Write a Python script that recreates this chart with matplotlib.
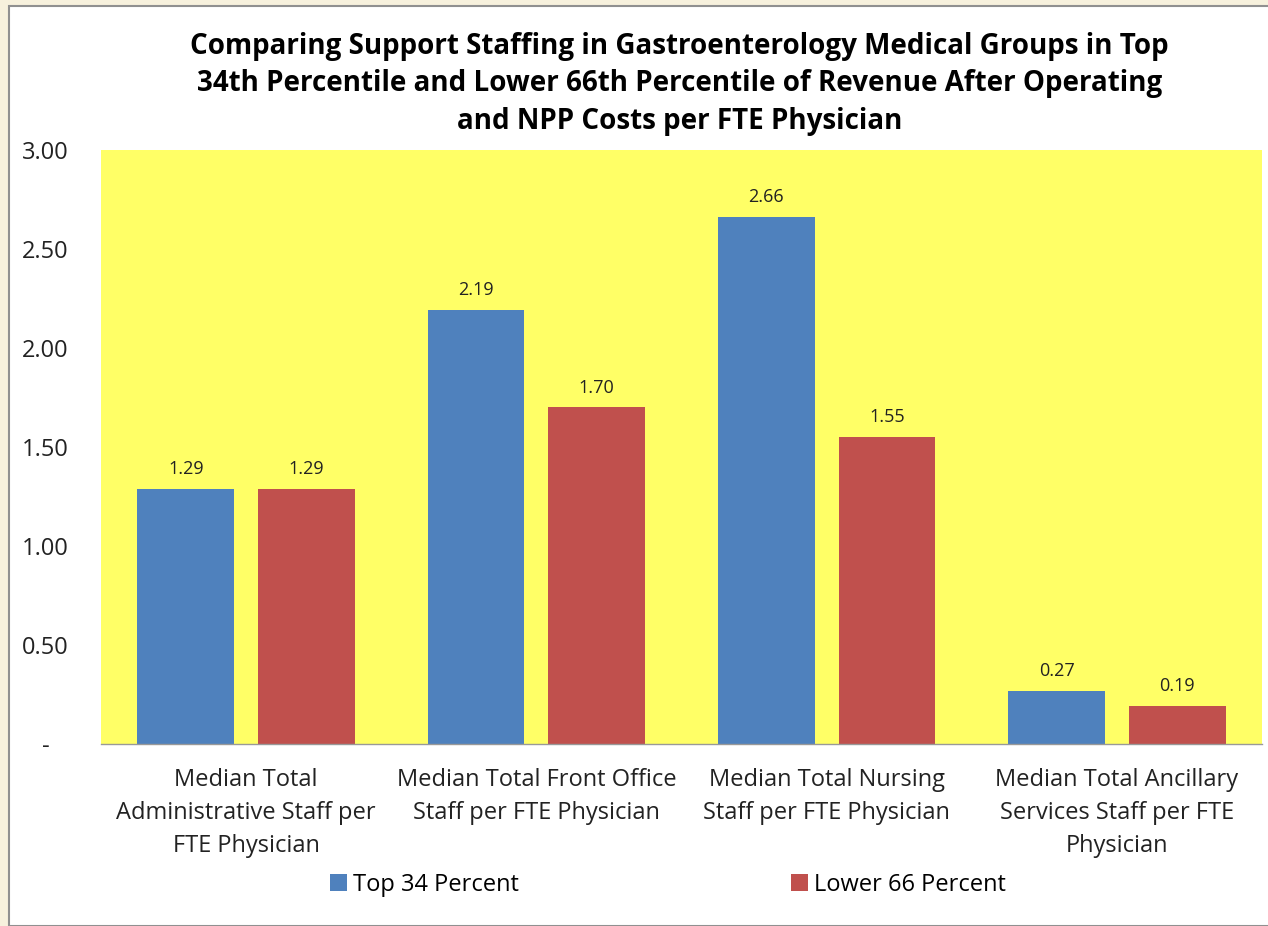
import matplotlib
matplotlib.use("Agg")
import matplotlib.pyplot as plt
import matplotlib.patches as mpatches
import numpy as np

BLUE = "#4F81BD"
RED = "#C0504D"
YELLOW = "#FFFF66"
CREAM = "#F7F1DD"

categories = [
    "Median Total\nAdministrative Staff per\nFTE Physician",
    "Median Total Front Office\nStaff per FTE Physician",
    "Median Total Nursing\nStaff per FTE Physician",
    "Median Total Ancillary\nServices Staff per FTE\nPhysician",
]
top34 = [1.29, 2.19, 2.66, 0.27]
lower66 = [1.29, 1.70, 1.55, 0.19]
series_names = ["Top 34 Percent", "Lower 66 Percent"]
yticks = [0, 0.5, 1.0, 1.5, 2.0, 2.5, 3.0]
ytick_labels = ["-", "0.50", "1.00", "1.50", "2.00", "2.50", "3.00"]

plt.rcParams["font.family"] = ["Open Sans", "DejaVu Sans"]

W, H = 1268, 926
fig = plt.figure(figsize=(W / 100, H / 100), dpi=100, facecolor=CREAM)

# white chart frame with gray border
fig.patches.append(mpatches.Rectangle((9 / W, 0), 1, 1 - 6 / H, transform=fig.transFigure,
                                      facecolor="white", edgecolor="#909090", linewidth=1.5,
                                      zorder=-10))

ax = fig.add_axes([101 / W, 1 - 744 / H, (1262 - 101) / W, (744 - 150) / H])
ax.set_facecolor(YELLOW)

x = np.arange(len(categories))
bw = 0.334
off = 0.208
b1 = ax.bar(x - off, top34, bw, color=BLUE, label=series_names[0])
b2 = ax.bar(x + off, lower66, bw, color=RED, label=series_names[1])

for bars in (b1, b2):
    for r in bars:
        ax.text(r.get_x() + r.get_width() / 2, r.get_height() + 0.055, f"{r.get_height():.2f}",
                ha="center", va="bottom", fontsize=13, color="#222222")

ax.set_xlim(-0.5, len(categories) - 0.5)
ax.set_ylim(0, 3.0)
ax.set_yticks(yticks)
ax.set_yticklabels(ytick_labels, fontsize=17, color="#222222", ha="center")
ax.set_xticks(x)
ax.set_xticklabels(categories, fontsize=17, color="#222222", linespacing=1.5)
ax.tick_params(axis="both", length=0)
ax.tick_params(axis="y", pad=40)
ax.tick_params(axis="x", pad=17)
for s in ("top", "right", "left"):
    ax.spines[s].set_visible(False)
ax.spines["bottom"].set_color("#999999")
ax.spines["bottom"].set_linewidth(1)

fig.text(0.536, 1 - 84 / H,
         "Comparing Support Staffing in Gastroenterology Medical Groups in Top\n"
         "34th Percentile and Lower 66th Percentile of Revenue After Operating\n"
         "and NPP Costs per FTE Physician",
         ha="center", va="center", fontsize=20, fontweight="bold", linespacing=1.38)

fig.legend(handles=[b1, b2], labels=series_names, loc="center", ncol=2,
           bbox_to_anchor=(668 / W, 1 - 885 / H), frameon=False, fontsize=17,
           handlelength=0.75, handleheight=0.75, handletextpad=0.25, columnspacing=11.5)

fig.savefig("out.png", dpi=100, facecolor=CREAM)
